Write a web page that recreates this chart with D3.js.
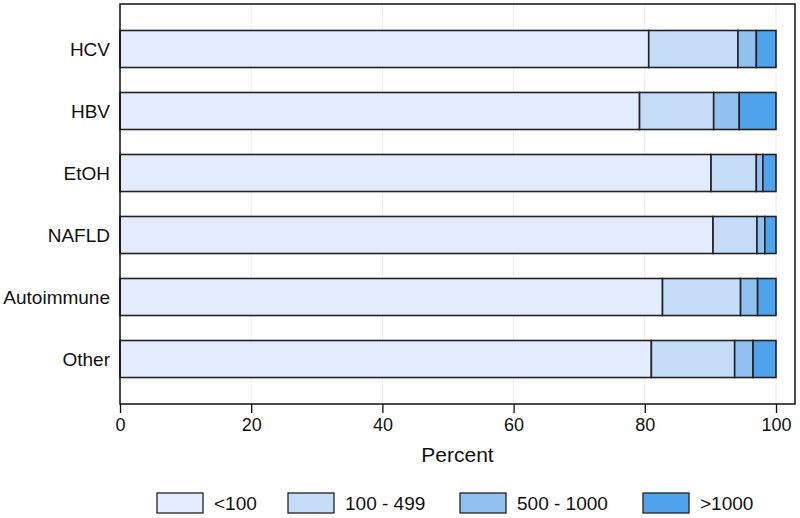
<!DOCTYPE html>
<html>
<head>
<meta charset="utf-8">
<script src="https://cdn.jsdelivr.net/npm/d3@7"></script>
<style>
  body { margin: 0; background: #fff; }
  text { font-family: "Liberation Sans", Arial, sans-serif; fill: #111; }
</style>
</head>
<body>
<script>
// data (percent of each group)
var categories = ["HCV", "HBV", "EtOH", "NAFLD", "Autoimmune", "Other"];
var seriesNames = ["<100", "100 - 499", "500 - 1000", ">1000"];
var lt100 =     [80.6, 79.2, 90.1, 90.4, 82.7, 81.0];
var s100_499 =  [13.6, 11.3,  6.9,  6.7, 11.9, 12.7];
var s500_1000 = [ 2.8,  3.9,  1.0,  1.2,  2.6,  2.8];
var gt1000 =    [ 3.0,  5.6,  2.0,  1.7,  2.8,  3.5];
var xTicks = [0, 20, 40, 60, 80, 100];
var colors = ["#e3ecfc", "#c4dcf8", "#91c1f1", "#4ea3ec"];

var width = 800, height = 518;
var plot = {left: 120, right: 795, top: 4, bottom: 404};

var rows = categories.map(function(c, i) {
  return {cat: c, vals: [lt100[i], s100_499[i], s500_1000[i], gt1000[i]]};
});

var svg = d3.select("body").append("svg")
  .attr("width", width)
  .attr("height", height);

var xScale = d3.scaleLinear().domain([0, 100]).range([120, 776]);
var yScale = d3.scaleBand().domain(categories).range([plot.top, plot.bottom])
  .paddingInner(0.403).paddingOuter(0.427);

// faint grid lines
svg.append("g").selectAll("line")
  .data(xTicks)
  .enter().append("line")
  .attr("x1", function(d){ return xScale(d); })
  .attr("x2", function(d){ return xScale(d); })
  .attr("y1", plot.top)
  .attr("y2", plot.bottom)
  .attr("stroke", "#ececec")
  .attr("stroke-width", 1);

// stacked bars
var stack = d3.stack().keys([0, 1, 2, 3]).value(function(d, k){ return d.vals[k]; });
var layers = stack(rows);

svg.append("g").selectAll("g")
  .data(layers)
  .enter().append("g")
  .attr("fill", function(d, i){ return colors[i]; })
  .selectAll("rect")
  .data(function(d){ return d; })
  .enter().append("rect")
  .attr("x", function(d){ return xScale(d[0]); })
  .attr("width", function(d){ return xScale(d[1]) - xScale(d[0]); })
  .attr("y", function(d){ return yScale(d.data.cat); })
  .attr("height", yScale.bandwidth())
  .attr("stroke", "#222")
  .attr("stroke-width", 1.6);

// plot frame
svg.append("rect")
  .attr("x", plot.left)
  .attr("y", plot.top)
  .attr("width", plot.right - plot.left)
  .attr("height", plot.bottom - plot.top)
  .attr("fill", "none")
  .attr("stroke", "#111")
  .attr("stroke-width", 1.5);

// x axis
var xAxis = d3.axisBottom(xScale).tickValues(xTicks).tickSize(9).tickPadding(5);
var gx = svg.append("g")
  .attr("transform", "translate(0," + plot.bottom + ")")
  .call(xAxis);
gx.select(".domain").remove();
gx.selectAll("line").attr("stroke", "#111").attr("stroke-width", 1.3);
gx.selectAll("text").style("font-size", "18px").attr("fill", "#111")
  .style("font-family", "'Liberation Sans', Arial, sans-serif");

svg.append("text")
  .attr("x", (plot.left + plot.right) / 2)
  .attr("y", 462)
  .attr("text-anchor", "middle")
  .style("font-size", "21px")
  .text("Percent");

// category labels
svg.append("g").selectAll("text")
  .data(categories)
  .enter().append("text")
  .attr("x", 110)
  .attr("y", function(d){ return yScale(d) + yScale.bandwidth() / 2; })
  .attr("dy", "0.35em")
  .attr("text-anchor", "end")
  .style("font-size", "19px")
  .text(function(d){ return d; });

// legend
var legendX = [157, 288, 460, 643];
var lg = svg.append("g").selectAll("g")
  .data(seriesNames)
  .enter().append("g")
  .attr("transform", function(d, i){ return "translate(" + legendX[i] + ",493)"; });
lg.append("rect")
  .attr("width", 46)
  .attr("height", 20)
  .attr("fill", function(d, i){ return colors[i]; })
  .attr("stroke", "#222")
  .attr("stroke-width", 1.3);
lg.append("text")
  .attr("x", 57)
  .attr("y", 10)
  .attr("dy", "0.36em")
  .style("font-size", "19px")
  .text(function(d){ return d; });
</script>
</body>
</html>
